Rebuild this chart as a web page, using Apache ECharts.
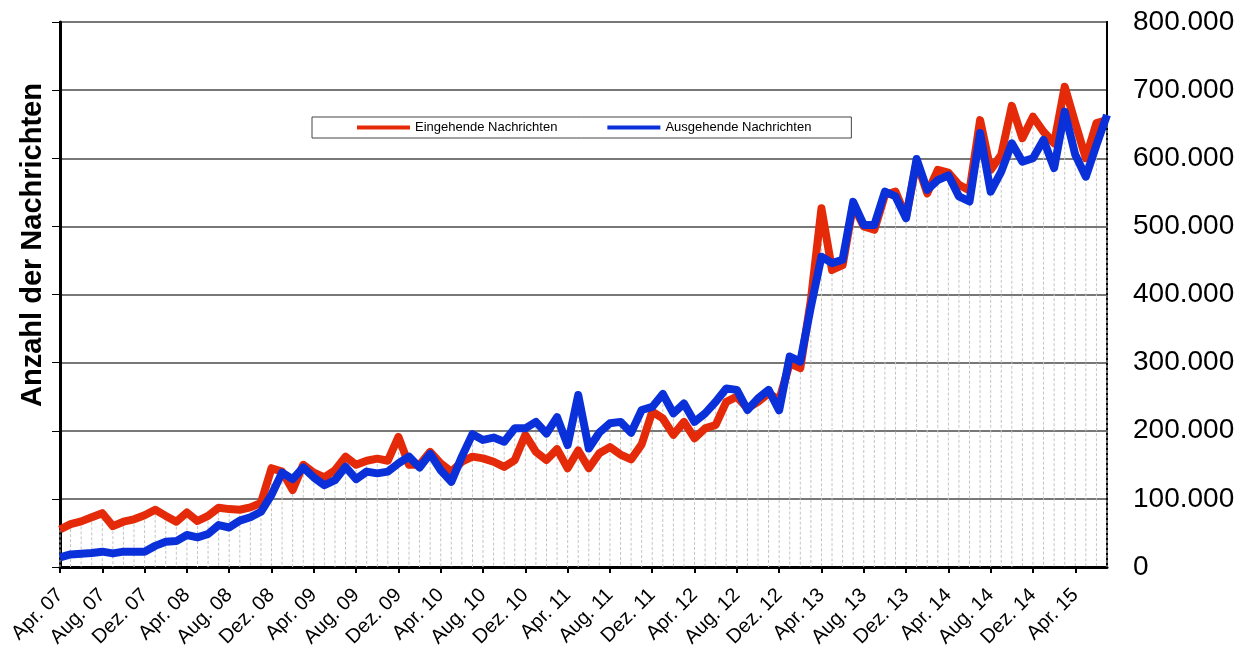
<!DOCTYPE html>
<html>
<head>
<meta charset="utf-8">
<script src="https://cdn.jsdelivr.net/npm/echarts@6/dist/echarts.min.js"></script>
<style>
  html, body { margin: 0; padding: 0; background: #fff; }
  #chart { width: 1244px; height: 649px; }
</style>
</head>
<body>
<div id="chart"></div>
<script>
// Monate ab Apr. 07 (100 Monate)
var monthNames = ['Jan.', 'Feb.', 'März', 'Apr.', 'Mai', 'Juni', 'Juli', 'Aug.', 'Sep.', 'Okt.', 'Nov.', 'Dez.'];
var startMonth = 3, startYear = 7, monthCount = 100;
var months = [];
for (var m = 0; m < monthCount; m++) {
  var mi = (startMonth + m) % 12;
  var yr = startYear + Math.floor((startMonth + m) / 12);
  months.push(monthNames[mi] + ' ' + (yr < 10 ? '0' + yr : '' + yr));
}

var eingehend = [
  55000, 63000, 67000, 73000, 79000, 60000, 66500, 70000, 76000, 84000,
  75000, 66500, 80000, 67500, 75000, 87000, 85000, 84000, 87500, 94000,
  145000, 140000, 113000, 150000, 138500, 131500, 142000, 162000, 150000, 156000,
  159000, 156000, 191000, 150000, 150000, 169000, 152000, 140000, 154500, 162000,
  159500, 154500, 147000, 157000, 194000, 169000, 157000, 173000, 145000, 171000,
  145000, 167000, 176000, 165000, 158000, 180000, 228000, 218000, 194000, 213000,
  189000, 203500, 208500, 242500, 250000, 233000, 242500, 255000, 245000, 299000,
  292000, 392000, 526500, 436000, 443000, 531500, 500000, 495000, 546000, 551000,
  514000, 595000, 548500, 583000, 579000, 561000, 552500, 656000, 583000, 605000,
  677000, 629500, 661000, 639000, 622000, 705000, 651500, 600000, 651500, 656000
];
var ausgehend = [
  14000, 18500, 19500, 20500, 22500, 20000, 22500, 22500, 22500, 31000,
  37000, 38000, 47000, 43500, 48500, 61500, 58000, 68000, 73000, 81000,
  106000, 138500, 129000, 146000, 131500, 120000, 127500, 147000, 129000, 140000,
  137500, 140000, 152000, 162000, 146000, 166000, 142000, 125000, 162000, 195000,
  186500, 190000, 184000, 203500, 203500, 213000, 196000, 220000, 179000, 252500,
  174000, 197500, 211000, 213000, 197000, 230500, 235000, 254000, 225500, 240000,
  213000, 225500, 242500, 262000, 260000, 230500, 247500, 260000, 230000, 309000,
  301500, 382000, 455500, 446000, 451000, 536000, 502000, 502000, 551000, 544000,
  512000, 599000, 553500, 568000, 575000, 544000, 536500, 637000, 551000, 580500,
  622000, 595000, 600000, 627000, 585500, 668500, 605000, 573000, 619500, 663500
];

// Fallinien vom jeweils hoeheren Wert zur Achse
var dropData = months.map(function (m, i) {
  return [i, Math.max(eingehend[i], ausgehend[i])];
});

function fmtDe(v) {
  return String(v).replace(/\B(?=(\d{3})+(?!\d))/g, '.');
}

var chart = echarts.init(document.getElementById('chart'));
var font = '"Liberation Sans", Arial, sans-serif';

var option = {
  animation: false,
  backgroundColor: '#fff',
  textStyle: { fontFamily: font },
  grid: {
    left: 60, right: 137, top: 22, bottom: 82,
    outerBoundsMode: 'none',
    containLabel: false,
    show: true,
    borderColor: '#000',
    borderWidth: 2
  },
  legend: {
    left: 312, top: 117,
    data: ['Eingehende Nachrichten', 'Ausgehende Nachrichten'],
    icon: 'rect',
    itemWidth: 53, itemHeight: 4,
    itemGap: 50,
    padding: [4, 40, 4, 45],
    borderColor: '#444',
    borderWidth: 1,
    backgroundColor: '#fff',
    textStyle: { fontSize: 13, color: '#000', fontFamily: font }
  },
  graphic: [{
    type: 'text',
    x: 33, y: 245,
    rotation: Math.PI / 2,
    style: {
      text: 'Anzahl der Nachrichten',
      font: 'bold 29px "Liberation Sans", Arial, sans-serif',
      fill: '#000',
      align: 'center',
      verticalAlign: 'middle'
    }
  }],
  xAxis: {
    type: 'category',
    boundaryGap: false,
    data: months,
    axisLine: { lineStyle: { color: '#000', width: 3 } },
    axisTick: { interval: 3, length: 6, lineStyle: { color: '#000', width: 2 } },
    axisLabel: {
      interval: 3,
      rotate: 45,
      margin: 25,
      fontSize: 20,
      color: '#000',
      fontFamily: font
    },
    splitLine: { show: false }
  },
  yAxis: [{
    type: 'value',
    position: 'left',
    min: 0, max: 800000, interval: 100000,
    axisLine: { show: true, lineStyle: { color: '#000', width: 3 } },
    axisTick: { show: true, inside: false, length: 8, lineStyle: { color: '#000', width: 1 } },
    axisLabel: { show: false },
    splitLine: { show: true, lineStyle: { color: '#777', width: 2 } }
  }, {
    type: 'value',
    position: 'right',
    min: 0, max: 800000, interval: 100000,
    axisLine: { show: true, lineStyle: { color: '#000', width: 2 } },
    axisTick: { show: false },
    axisLabel: {
      margin: 26,
      fontSize: 28,
      color: '#000',
      fontFamily: font,
      padding: [6, 0, 0, 0],
      formatter: fmtDe
    },
    splitLine: { show: false }
  }],
  series: [{
    name: 'drop',
    type: 'custom',
    silent: true,
    z: 1,
    data: dropData,
    renderItem: function (params, api) {
      var top = api.coord([api.value(0), api.value(1)]);
      var bot = api.coord([api.value(0), 0]);
      return {
        type: 'line',
        shape: { x1: top[0], y1: top[1], x2: bot[0], y2: bot[1] },
        style: { stroke: '#c4c4c4', lineWidth: 1, lineDash: [3, 2] }
      };
    }
  }, {
    name: 'Eingehende Nachrichten',
    type: 'line',
    z: 3,
    symbol: 'none',
    data: eingehend,
    itemStyle: { color: '#E42A08' },
    lineStyle: { width: 8, color: '#E42A08', join: 'round' }
  }, {
    name: 'Ausgehende Nachrichten',
    type: 'line',
    z: 4,
    symbol: 'none',
    data: ausgehend,
    itemStyle: { color: '#0A30DA' },
    lineStyle: { width: 8, color: '#0A30DA', join: 'round' }
  }]
};

chart.setOption(option);

window.onresize = function () {
  chart.resize();
};
</script>
</body>
</html>
